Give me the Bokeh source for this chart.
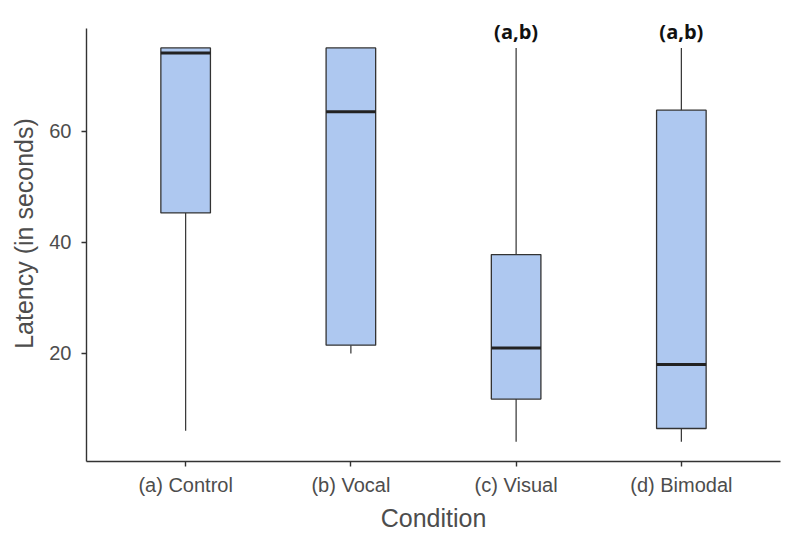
import numpy as np
from bokeh.plotting import figure
from bokeh.models import Range1d, FixedTicker, Label
from bokeh.embed import file_html
from bokeh.resources import INLINE

# ---- data ----
conditions = ["(a) Control", "(b) Vocal", "(c) Visual", "(d) Bimodal"]
lower_whisker = [6.1, 20.0, 4.1, 4.1]
q1 = [45.3, 21.5, 11.8, 6.5]
median = [74.1, 63.5, 21.0, 18.0]
q3 = [75.0, 75.0, 37.8, 63.8]
upper_whisker = [75.0, 75.0, 75.0, 75.0]
annotations = ["", "", "(a,b)", "(a,b)"]
y_ticks = [20, 40, 60]

# ---- styling ----
BOX_W = 0.3
FILL = "#aec8f0"
DARK = "#333333"
TEXT_GRAY = "#4d4d4d"
HEADROOM = 4.1   # extra room above the axis line for the significance labels
LABEL_GAP = 3.0

xs = np.arange(1, len(conditions) + 1)
lw = np.array(lower_whisker)
uw = np.array(upper_whisker)
lo = np.array(q1)
hi = np.array(q3)
med = np.array(median)

data_min = lw.min()
data_max = uw.max()
pad = 0.05 * (data_max - data_min)
y_lo, y_hi = data_min - pad, data_max + pad

p = figure(width=784, height=538, output_backend="svg", toolbar_location=None,
           x_range=Range1d(0.4, len(conditions) + 0.6),
           y_range=Range1d(y_lo, y_hi + HEADROOM),
           min_border_left=86, min_border_right=4, min_border_top=5,
           min_border_bottom=77)
p.outline_line_color = None
p.background_fill_color = "white"
p.border_fill_color = "white"
p.xgrid.visible = False
p.ygrid.visible = False

# whiskers
p.segment(x0=xs, x1=xs, y0=hi, y1=uw, line_color=DARK, line_width=1.2)
p.segment(x0=xs, x1=xs, y0=lw, y1=lo, line_color=DARK, line_width=1.2)
# boxes
p.vbar(x=xs, width=BOX_W, bottom=lo, top=hi, fill_color=FILL,
       line_color=DARK, line_width=1.3)
# medians
p.segment(x0=xs - BOX_W / 2, x1=xs + BOX_W / 2, y0=med, y1=med,
          line_color="#222222", line_width=3)

# significance labels
for xi, txt, top in zip(xs, annotations, uw):
    if txt:
        p.add_layout(Label(x=float(xi), y=float(top) + LABEL_GAP, text=txt,
                           text_align="center", text_baseline="middle",
                           text_font="Open Sans", text_font_style="bold",
                           text_font_size="20px", text_color="#111111"))

# axes
p.xaxis.ticker = FixedTicker(ticks=list(xs))
p.xaxis.major_label_overrides = {int(i): c for i, c in zip(xs, conditions)}
p.yaxis.ticker = FixedTicker(ticks=y_ticks)
p.yaxis.bounds = (y_lo, y_hi)
p.xaxis.axis_label = "Condition"
p.yaxis.axis_label = "Latency (in seconds)"
for ax in (p.xaxis, p.yaxis):
    ax.axis_line_color = DARK
    ax.axis_line_width = 1.4
    ax.major_tick_line_color = DARK
    ax.major_tick_line_width = 1.4
    ax.major_tick_out = 5
    ax.major_tick_in = 0
    ax.minor_tick_line_color = None
    ax.major_label_text_font = "Liberation Sans"
    ax.major_label_text_font_size = "20px"
    ax.major_label_text_color = TEXT_GRAY
    ax.axis_label_text_font = "Liberation Sans"
    ax.axis_label_text_font_size = "25px"
    ax.axis_label_text_font_style = "normal"
    ax.axis_label_text_color = TEXT_GRAY
p.xaxis.major_label_standoff = 7
p.xaxis.axis_label_standoff = 5
p.yaxis.major_label_standoff = 10
p.yaxis.axis_label_standoff = 8

open("out.html", "w").write(file_html(p, INLINE))
